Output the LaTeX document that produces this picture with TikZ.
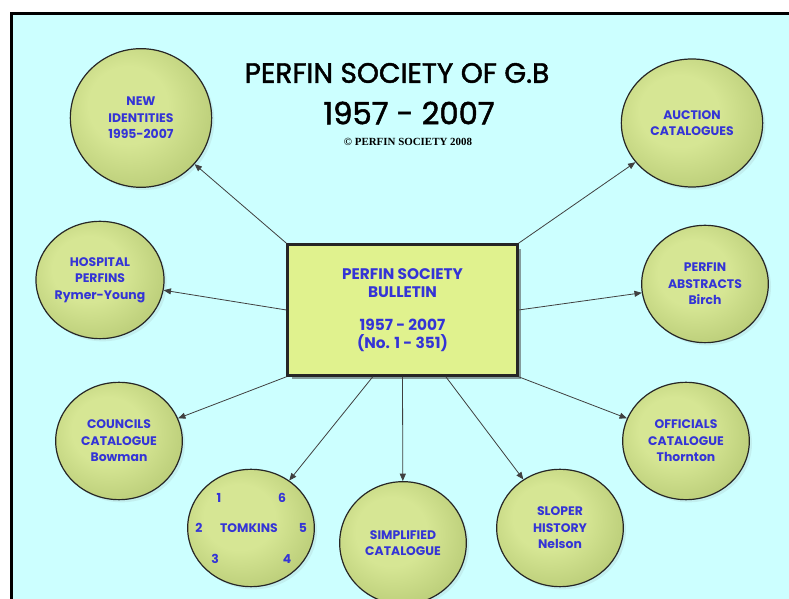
\documentclass[tikz,border=0pt]{standalone}
\usepackage{fontspec}
\setmainfont{Poppins}
\newfontfamily\headfont{Poppins}[BoldFont={Poppins},BoldFeatures={FakeBold=1.6}]
\newfontfamily\serifbold{Liberation Serif}
\usepackage{xcolor}
\usetikzlibrary{shapes.geometric, arrows.meta, positioning, shadows}
\definecolor{skyback}{RGB}{204,255,255}
\definecolor{ballin}{RGB}{214,230,148}
\definecolor{ballout}{RGB}{150,172,84}
\definecolor{bulfill}{RGB}{224,242,142}
\definecolor{inkblue}{RGB}{52,52,214}
\pgfdeclareradialshading{greenball}{\pgfpoint{-6bp}{6bp}}{color(0bp)=(ballin); color(14bp)=(ballin); color(52bp)=(ballout); color(60bp)=(ballout)}
\tikzset{topic/.style={ellipse,draw=black!85,line width=0.9pt,shading=greenball,minimum width=95pt,minimum height=88pt,inner sep=0pt,align=center,text=inkblue,font=\fontsize{9.3}{12.4}\selectfont\bfseries,drop shadow={opacity=0.12,shadow xshift=2pt,shadow yshift=-2pt}},
         bigtopic/.style={topic,minimum width=106pt,minimum height=104pt},
         bulletin/.style={rectangle,draw=black!85,line width=2.2pt,fill=bulfill,minimum width=172pt,minimum height=98pt,align=center,text=inkblue,font=\fontsize{11.5}{13.5}\selectfont\bfseries,drop shadow={shadow xshift=3pt,shadow yshift=-3pt,fill=black!70,opacity=0.55}},
         tnum/.style={text=inkblue,font=\fontsize{9.3}{11}\selectfont\bfseries,inner sep=1pt},
         link/.style={-{Triangle[length=5.5pt,width=4.5pt]},draw=black!75,line width=0.6pt}}

\begin{document}
\begin{tikzpicture}[x=0.75pt,y=0.75pt]
    % Frame
    \useasboundingbox (0,0) rectangle (789,599);
    \fill[white] (0,0) rectangle (789,599);
    \fill[skyback] (11,0) rectangle (789,586);
    \fill[black] (9.5,0) rectangle (12.5,587);
    \fill[black] (9.5,584) rectangle (789,587);
    % Heading
    \node (title) at (397,526) {\headfont\bfseries\fontsize{21}{24}\selectfont PERFIN SOCIETY OF G.B};
    \node (years) at (409,486) {\headfont\bfseries\fontsize{23}{28}\selectfont 1957 - 2007};
    \node (copy) at (408,457) {\serifbold\fontsize{8.2}{10}\selectfont\bfseries \textcopyright\ PERFIN SOCIETY 2008};
    % Centre
    \node (bul) at (402.5,289) [bulletin] {PERFIN SOCIETY\\BULLETIN\\[11pt]1957 - 2007\\(No. 1 - 351)};
    % Topics
    \node (newid) at (141,481) [bigtopic] {NEW\\IDENTITIES\\1995-2007};
    \node (auction) at (692,476) [bigtopic,minimum height=96pt] {AUCTION\\CATALOGUES};
    \node (hosp) at (100,319) [topic] {HOSPITAL\\PERFINS\\Rymer-Young};
    \node (abstr) at (705,315) [topic] {PERFIN\\ABSTRACTS\\Birch};
    \node (council) at (119,158) [topic] {COUNCILS\\CATALOGUE\\Bowman};
    \node (offic) at (686,158) [topic] {OFFICIALS\\CATALOGUE\\Thornton};
    \node (tomk) at (251,71) [topic] {};
    \node (simpl) at (403,56) [topic,minimum height=92pt] {SIMPLIFIED\\CATALOGUE};
    \node (sloper) at (560,71) [topic] {SLOPER\\HISTORY\\Nelson};
    % Tomkins numbers
    \node (tname) at (249,71) [tnum] {TOMKINS};
    \node (t1) at (219,101) [tnum] {1};
    \node (t6) at (282,101) [tnum] {6};
    \node (t2) at (199,71) [tnum] {2};
    \node (t5) at (303,71) [tnum] {5};
    \node (t3) at (215,40) [tnum] {3};
    \node (t4) at (287,40) [tnum] {4};
    % Links
    \draw[link] (bul.north west) -- (newid);
    \draw[link] (bul.north east) -- (auction);
    \draw[link] (bul.west) -- (hosp);
    \draw[link] (bul.east) -- (abstr);
    \draw[link] (bul.south west) -- (council);
    \draw[link] (bul.south east) -- (offic);
    \draw[link] (bul.-114) -- (tomk);
    \draw[link] (bul.south) -- (simpl);
    \draw[link] (bul.-57) -- (sloper);
  \end{tikzpicture}
\end{document}
